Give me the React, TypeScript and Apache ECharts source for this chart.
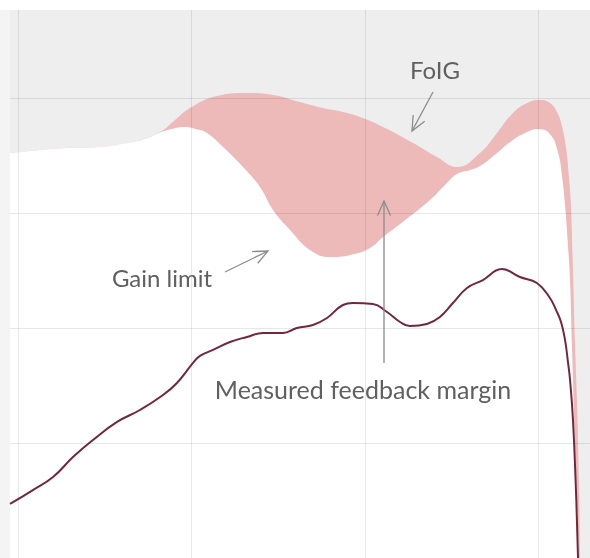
import React, { useEffect, useRef } from "react";
import * as echarts from "echarts";

// Grid positions (x in octave-like units, y in dB-like units)
const X_GRID = [0, 1, 2, 3];
const Y_GRID = [10, 20, 30, 40];

// Upper edge of the FoIG band
const foigX = [-0.046, 0.127, 0.282, 0.473, 0.663, 0.818, 0.905, 0.991, 1.147, 1.32, 1.47, 1.625, 1.758, 1.873, 1.988, 2.104, 2.277, 2.415, 2.53, 2.663, 2.761, 2.853, 2.934, 3.009, 3.066, 3.107, 3.135, 3.159, 3.176, 3.187, 3.199, 3.21, 3.222, 3.233, 3.239];
const foigY = [35.22, 35.48, 35.65, 35.74, 36.17, 37.04, 38.09, 39.13, 40.17, 40.43, 40.26, 39.65, 39.13, 38.78, 38.26, 37.48, 36.09, 34.87, 34.0, 35.22, 36.96, 38.7, 39.57, 39.83, 39.57, 38.78, 37.57, 35.65, 33.04, 30.7, 25.04, 18.96, 13.74, 6.78, 0];

// Gain limit (lower edge of the band)
const gainX = [-0.046, 0.127, 0.282, 0.473, 0.663, 0.761, 0.818, 0.898, 0.962, 1.025, 1.089, 1.182, 1.297, 1.395, 1.47, 1.568, 1.683, 1.798, 1.914, 2.029, 2.104, 2.202, 2.375, 2.461, 2.53, 2.605, 2.663, 2.761, 2.853, 2.934, 2.997, 3.066, 3.112, 3.135, 3.153, 3.17, 3.182, 3.193, 3.199, 3.21, 3.222, 3.233];
const gainY = [35.22, 35.48, 35.65, 35.74, 36.17, 36.61, 37.0, 37.35, 37.48, 37.3, 36.96, 35.74, 34.0, 32.26, 30.26, 28.52, 26.78, 26.17, 26.35, 26.96, 27.91, 29.04, 31.13, 32.43, 33.39, 33.74, 34.09, 35.22, 36.35, 37.04, 37.3, 36.87, 35.3, 33.3, 30.7, 27.22, 24.17, 18.52, 15.48, 10.26, 5.04, 0];

// Measured feedback margin
const measX = [-0.046, 0.086, 0.202, 0.317, 0.432, 0.571, 0.703, 0.836, 0.916, 1.009, 1.049, 1.124, 1.222, 1.32, 1.412, 1.527, 1.608, 1.7, 1.781, 1.873, 1.931, 2.046, 2.127, 2.202, 2.259, 2.357, 2.432, 2.507, 2.588, 2.68, 2.79, 2.893, 2.991, 3.066, 3.101, 3.13, 3.153, 3.17, 3.182, 3.199, 3.216, 3.228];
const measY = [4.7, 5.91, 7.04, 8.78, 10.26, 11.83, 12.87, 14.17, 15.22, 16.96, 17.57, 18.09, 18.78, 19.22, 19.57, 19.57, 20.0, 20.26, 20.87, 22.0, 22.17, 22.09, 21.39, 20.52, 20.17, 20.35, 20.96, 22.17, 23.48, 24.17, 25.13, 24.43, 23.91, 22.61, 21.57, 20.52, 18.96, 17.04, 15.48, 12.0, 5.91, 0];

const LABELS = ["FoIG", "Gain limit", "Measured feedback margin"];

const zip = (xs: number[], ys: number[]) => xs.map((x, i) => [x, ys[i]]);

const TEXT_COLOR = "#606060";
const ARROW_COLOR = "#8c8c8c";
const FONT = "24px Lato";
const FONT_L = "25px Lato";

function arrow(x1: number, y1: number, x2: number, y2: number) {
  const a = Math.atan2(y2 - y1, x2 - x1);
  const len = 16;
  const sp = 0.42;
  const p1 = [x2 - len * Math.cos(a - sp), y2 - len * Math.sin(a - sp)];
  const p2 = [x2 - len * Math.cos(a + sp), y2 - len * Math.sin(a + sp)];
  return [
    {
      type: "line",
      shape: { x1, y1, x2, y2 },
      style: { stroke: ARROW_COLOR, lineWidth: 1.3 },
      z: 100,
    },
    {
      type: "polyline",
      shape: { points: [p1, [x2, y2], p2] },
      style: { stroke: ARROW_COLOR, lineWidth: 1.3, fill: null },
      z: 100,
    },
  ];
}

export default function App() {
  const ref = useRef<HTMLDivElement>(null);
  useEffect(() => {
    if (!ref.current) return;
    const chart = echarts.init(ref.current, undefined, { renderer: "svg" });
    const gridLines = [
      ...X_GRID.map((v) => ({ xAxis: v })),
      ...Y_GRID.map((v) => ({ yAxis: v })),
    ];
    const common = {
      type: "line",
      smooth: 0.45,
      showSymbol: false,
      silent: true,
    };
    chart.setOption({
      animation: false,
      grid: {
        left: 10,
        top: 10,
        right: 0,
        bottom: 0,
        show: true,
        backgroundColor: "#eeeeee",
        borderWidth: 0,
      },
      xAxis: { type: "value", min: -0.046, max: 3.297, show: false },
      yAxis: { type: "value", min: 0, max: 47.65, show: false },
      series: [
        {
          ...common,
          name: "FoIG",
          data: zip(foigX, foigY),
          lineStyle: { width: 0 },
          areaStyle: { color: "#eeb9b9", opacity: 1 },
          z: 2,
        },
        {
          ...common,
          name: "Gain limit",
          data: zip(gainX, gainY),
          lineStyle: { width: 0 },
          areaStyle: { color: "#ffffff", opacity: 1 },
          z: 3,
        },
        {
          ...common,
          name: "Measured feedback margin",
          data: zip(measX, measY),
          lineStyle: { width: 2, color: "#74263f" },
          z: 5,
          markLine: {
            silent: true,
            symbol: ["none", "none"],
            label: { show: false },
            lineStyle: { color: "rgba(0,0,0,0.09)", width: 1, type: "solid" },
            emphasis: { disabled: true },
            data: gridLines,
            z: 4,
          },
        },
      ],
      graphic: [
        {
          type: "rect",
          shape: { x: 0, y: 10, width: 10, height: 548 },
          style: { fill: "#f4f4f4" },
          z: 0,
        },
        {
          type: "text",
          style: { text: LABELS[0], x: 435, y: 69, font: FONT, fill: TEXT_COLOR, textAlign: "center", textVerticalAlign: "middle" },
          z: 100,
        },
        {
          type: "text",
          style: { text: LABELS[1], x: 162, y: 277, font: FONT, fill: TEXT_COLOR, textAlign: "center", textVerticalAlign: "middle" },
          z: 100,
        },
        {
          type: "text",
          style: { text: LABELS[2], x: 363, y: 389, font: FONT_L, fill: TEXT_COLOR, textAlign: "center", textVerticalAlign: "middle" },
          z: 100,
        },
        ...arrow(433, 92, 412, 131),
        ...arrow(225, 272, 268, 251),
        ...arrow(384, 363, 384, 201),
      ],
    });
    return () => chart.dispose();
  }, []);
  return (
    <div
      ref={ref}
      style={{ position: "fixed", left: 0, top: 0, width: 590, height: 558 }}
    />
  );
}
